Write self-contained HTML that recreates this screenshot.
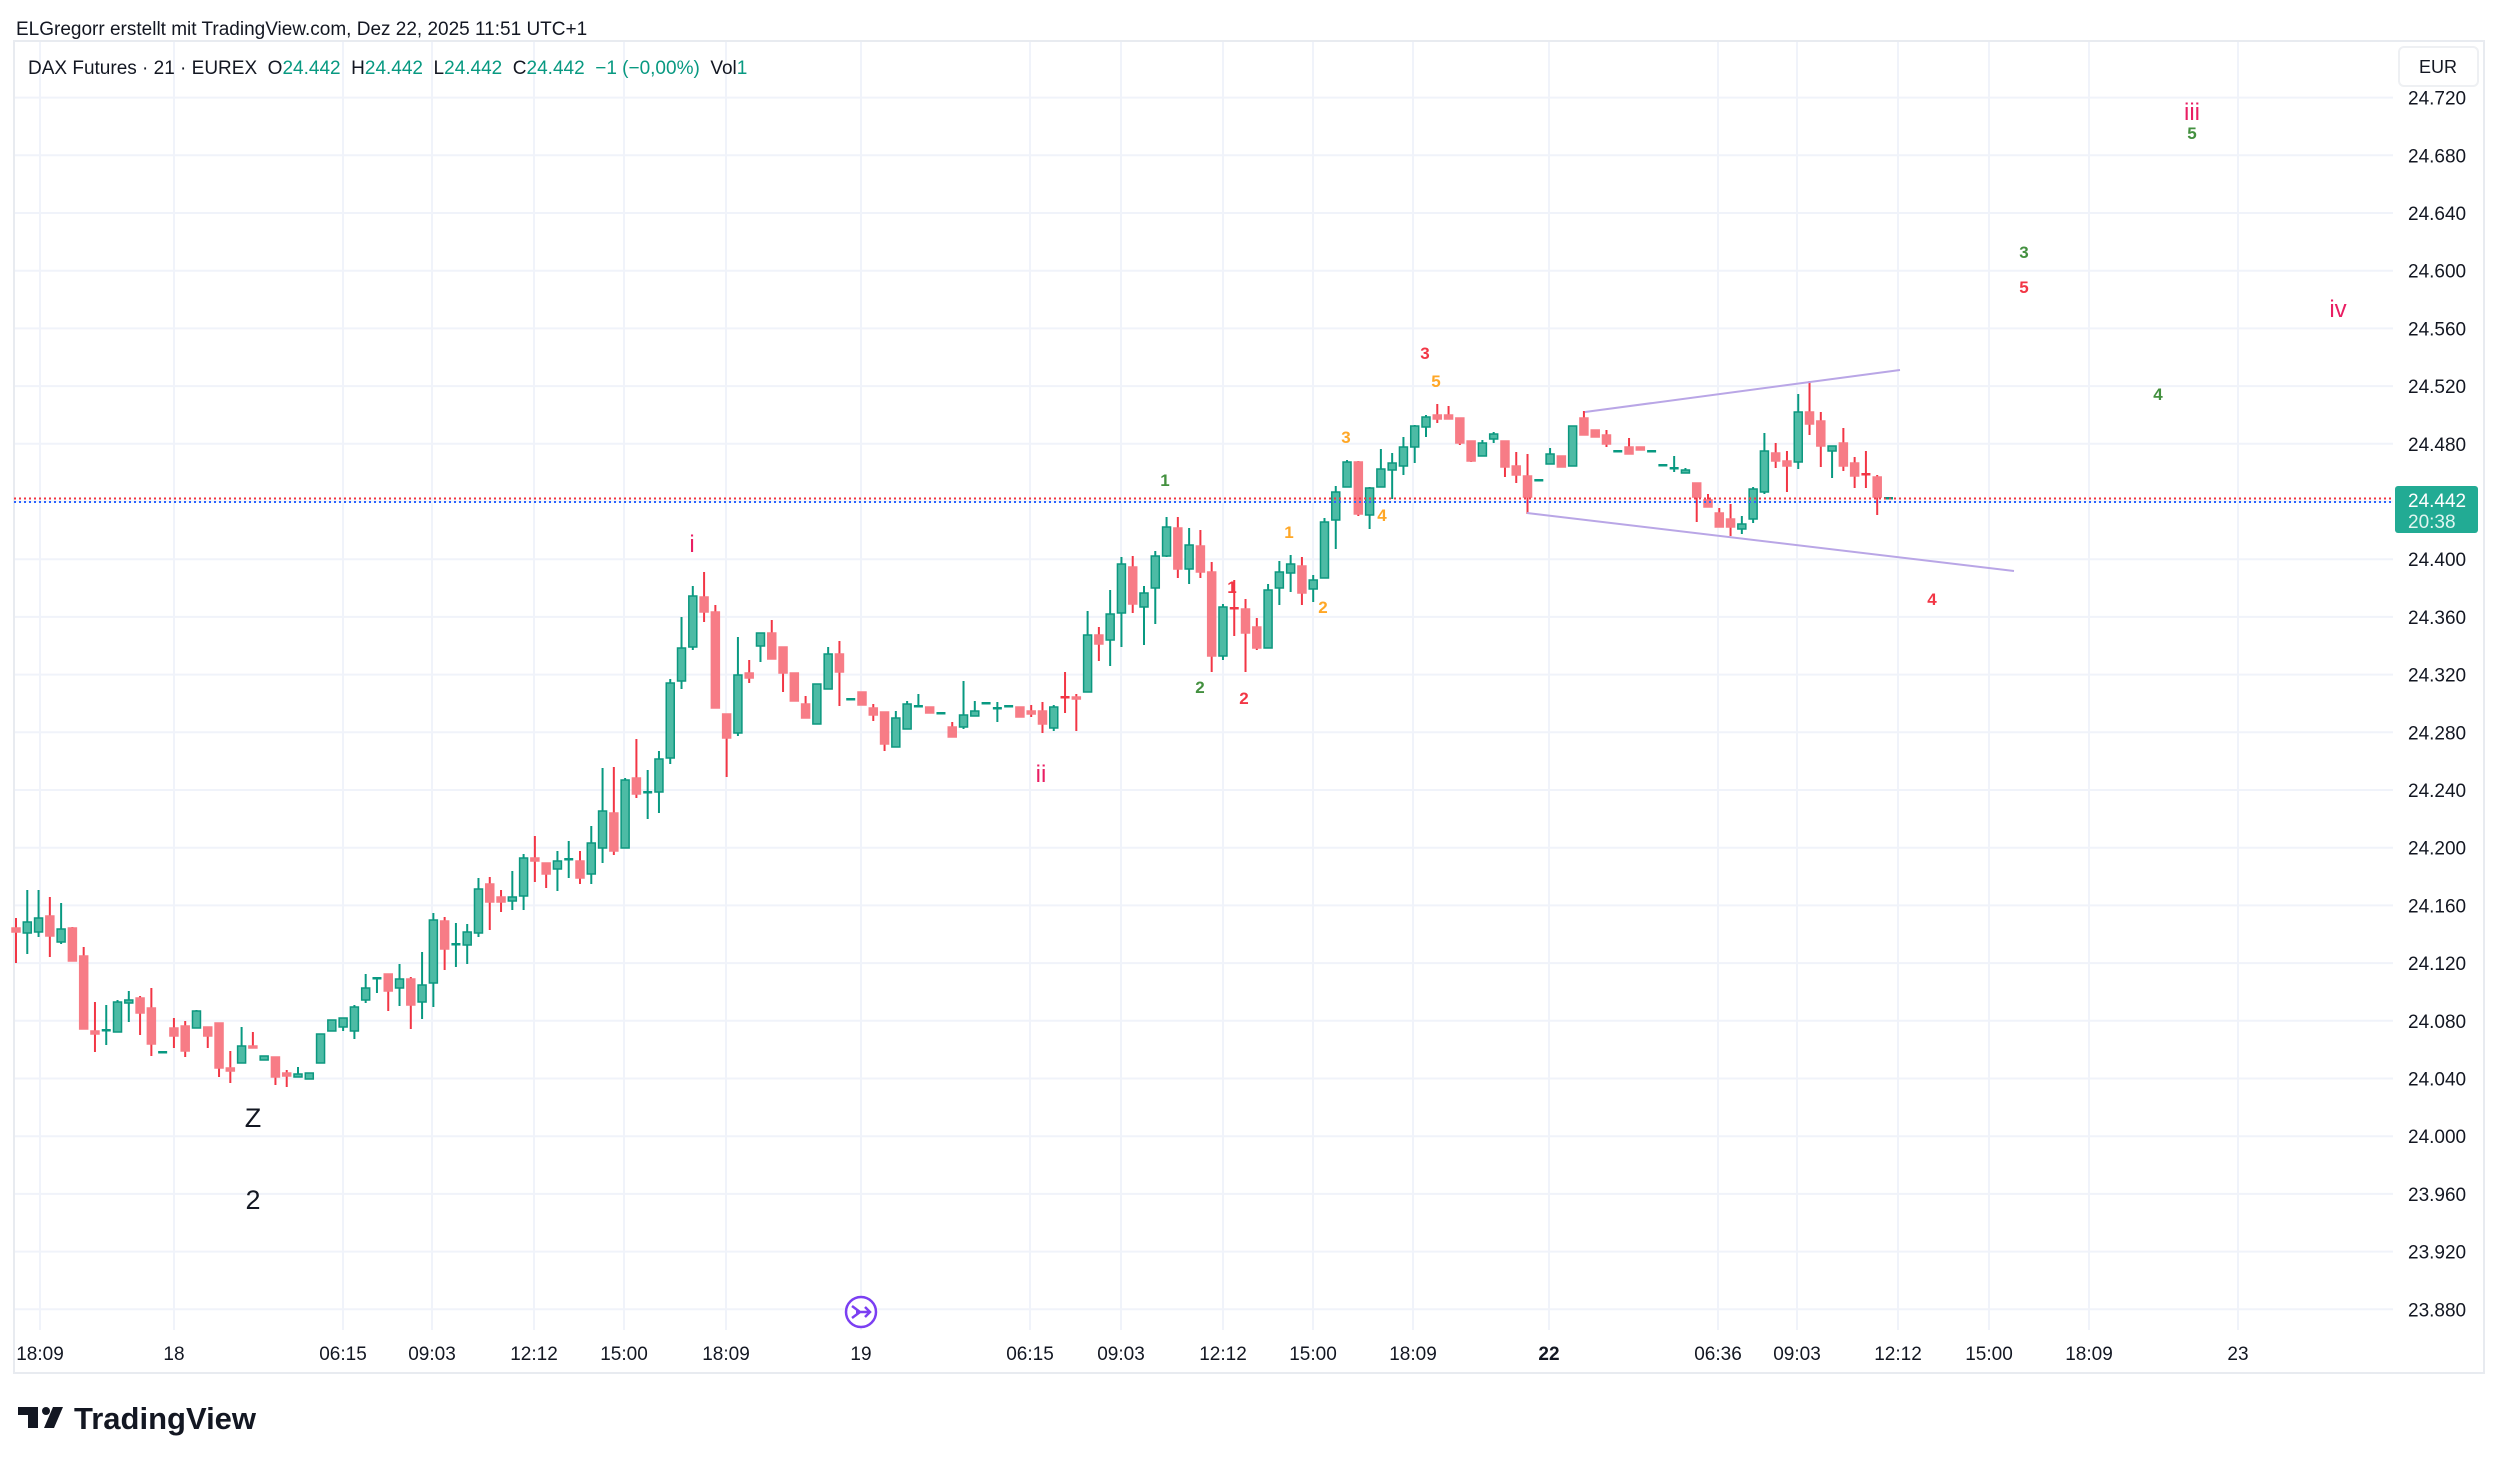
<!DOCTYPE html>
<html><head><meta charset="utf-8"><style>
html,body{margin:0;padding:0;background:#fff;}
svg{display:block;}
text{font-family:"Liberation Sans",sans-serif;}
</style></head><body>
<svg id="s" width="2500" height="1465" viewBox="0 0 2500 1465" xmlns="http://www.w3.org/2000/svg">
<rect width="2500" height="1465" fill="#fff"/>
<text x="16" y="35" font-size="19" fill="#131722">ELGregorr erstellt mit TradingView.com, Dez 22, 2025 11:51 UTC+1</text>
<g id="grid" stroke="#f0f3fa" stroke-width="2"></g>
<rect x="14" y="41" width="2470" height="1332" fill="none" stroke="#e8ebf0" stroke-width="2"/>
<g id="candles"></g>
<line x1="14" y1="498.5" x2="2393" y2="498.5" stroke="#f23645" stroke-width="2" stroke-dasharray="2,3"/>
<line x1="14" y1="502" x2="2393" y2="502" stroke="#2962ff" stroke-width="2" stroke-dasharray="2,3"/>
<line x1="1585" y1="412" x2="1900" y2="370" stroke="#b9a6e6" stroke-width="2"/>
<line x1="1527" y1="513" x2="2014" y2="571" stroke="#b9a6e6" stroke-width="2"/>
<g font-size="17" font-weight="bold" text-anchor="middle">
<text x="1165" y="486" fill="#43903f">1</text>
<text x="1200" y="693" fill="#43903f">2</text>
<text x="1232" y="593" fill="#f23645">1</text>
<text x="1244" y="704" fill="#f23645">2</text>
<text x="1289" y="538" fill="#ffa726">1</text>
<text x="1323" y="613" fill="#ffa726">2</text>
<text x="1346" y="443" fill="#ffa726">3</text>
<text x="1382" y="521" fill="#ffa726">4</text>
<text x="1425" y="359" fill="#f23645">3</text>
<text x="1436" y="387" fill="#ffa726">5</text>
<text x="2024" y="258" fill="#43903f">3</text>
<text x="2024" y="293" fill="#f23645">5</text>
<text x="2158" y="400" fill="#43903f">4</text>
<text x="1932" y="605" fill="#f23645">4</text>
<text x="2192" y="139" fill="#43903f">5</text>
</g>
<g font-size="24" fill="#e91e63" text-anchor="middle">
<text x="692" y="552">i</text>
<text x="1041" y="782">ii</text>
<text x="2192" y="120">iii</text>
<text x="2338" y="317">iv</text>
</g>
<g font-size="27" fill="#131722" text-anchor="middle">
<text x="253" y="1127">Z</text>
<text x="253" y="1209">2</text>
</g>
<text x="28" y="74" font-size="19" fill="#131722" xml:space="preserve" style="white-space:pre">DAX Futures · 21 · EUREX  O<tspan fill="#089981">24.442</tspan>  H<tspan fill="#089981">24.442</tspan>  L<tspan fill="#089981">24.442</tspan>  C<tspan fill="#089981">24.442</tspan>  <tspan fill="#089981">−1 (−0,00%)</tspan>  Vol<tspan fill="#089981">1</tspan></text>
<rect x="2399" y="47" width="79" height="39" rx="5" fill="#fff" stroke="#eef0f3" stroke-width="2"/>
<text x="2438" y="73" font-size="18" fill="#131722" text-anchor="middle">EUR</text>
<g id="plabels" font-size="19" fill="#131722"></g>
<rect x="2395" y="486" width="83" height="47" rx="3" fill="#22ab94"/>
<text x="2408" y="507" font-size="19" fill="#fff">24.442</text>
<text x="2408" y="528" font-size="19" fill="#e0f5f0">20:38</text>
<g id="tlabels" font-size="19" fill="#131722" text-anchor="middle"></g>
<circle cx="861" cy="1312" r="15" fill="#fff" stroke="#7b3ff2" stroke-width="2.5"/>
<path d="M852 1306 L860 1312 L852 1318 M856 1312 L870 1312 M865 1307 L870 1312 L865 1317" fill="none" stroke="#7b3ff2" stroke-width="2.5"/>
<g fill="#131722">
<rect x="18" y="1407" width="20" height="8"/><rect x="28" y="1407" width="10" height="21"/>
<circle cx="46" cy="1411" r="4"/>
<polygon points="53,1407 63,1407 54,1428 44,1428"/>
</g>
<text x="74" y="1429" font-size="31" font-weight="bold" fill="#131722">TradingView</text>
</svg>
<script>
var NS="http://www.w3.org/2000/svg";
function el(p,t,a,txt){var e=document.createElementNS(NS,t);for(var k in a)e.setAttribute(k,a[k]);if(txt!==undefined)e.textContent=txt;p.appendChild(e);return e;}
var grid=document.getElementById('grid'),pl=document.getElementById('plabels'),tl=document.getElementById('tlabels');
for(var k=0;k<=21;k++){var y=97.6+k*57.7;el(grid,'line',{x1:14,y1:y,x2:2393,y2:y});
var p=(24.72-k*0.04).toFixed(3);if(k!=7)el(pl,'text',{x:2408,y:y+7},p);}
var T=[[40,'18:09'],[174,'18'],[343,'06:15'],[432,'09:03'],[534,'12:12'],[624,'15:00'],[726,'18:09'],[861,'19'],[1030,'06:15'],[1121,'09:03'],[1223,'12:12'],[1313,'15:00'],[1413,'18:09'],[1549,'22'],[1718,'06:36'],[1797,'09:03'],[1898,'12:12'],[1989,'15:00'],[2089,'18:09'],[2238,'23']];
T.forEach(function(t){el(grid,'line',{x1:t[0],y1:41,x2:t[0],y2:1330});var a={x:t[0],y:1360};if(t[1]=='22')a['font-weight']='bold';el(tl,'text',a,t[1]);});
var D="r 928 932 918 963|g 922 933 890 954|g 918 932 890 937|r 916 936 897 957|g 929 942 903 944|r 928 961 927 961|r 956 1029 947 1029|r 1031 1034 1002 1052|g 1030 1031 1005 1045|g 1002 1032 1000 1032|g 1000 1003 991 1022|r 998 1013 996 1035|r 1008 1044 988 1056|g 1052 1053 1052 1053|r 1028 1036 1018 1048|r 1026 1051 1021 1057|g 1011 1028 1010 1028|r 1027 1036 1027 1048|r 1023 1068 1023 1077|r 1068 1071 1051 1083|g 1046 1063 1027 1063|r 1046 1048 1032 1048|g 1056 1060 1056 1060|r 1057 1077 1057 1085|r 1073 1076 1070 1087|g 1074 1077 1067 1077|g 1073 1079 1073 1079|g 1034 1063 1034 1063|g 1020 1031 1020 1031|g 1018 1027 1018 1031|g 1007 1031 1005 1039|g 988 1000 974 1003|g 978 979 978 993|r 974 991 974 1011|g 979 988 964 1006|r 979 1005 977 1029|g 985 1002 952 1019|g 920 983 913 1007|r 921 949 917 970|g 944 945 923 967|g 932 945 924 964|g 889 933 878 937|r 884 902 877 930|r 897 902 890 912|g 897 901 871 910|g 858 896 854 910|r 858 861 836 882|r 863 874 863 888|g 861 869 851 891|g 859 859 841 878|r 861 878 851 884|g 843 874 826 884|g 811 848 768 863|r 813 851 767 855|g 780 848 778 848|r 778 794 739 798|g 792 792 770 819|g 759 792 751 813|g 683 758 679 764|g 648 681 617 689|g 596 647 586 650|r 597 612 572 622|r 612 708 605 708|r 714 738 714 777|g 675 733 637 736|r 673 678 660 683|g 633 646 633 662|r 633 659 620 659|r 647 673 647 692|r 673 701 673 701|r 704 718 696 718|g 684 724 684 724|g 654 689 647 689|r 654 672 641 706|g 699 699 699 699|r 692 705 692 705|r 708 715 704 721|r 712 744 712 751|g 718 747 711 747|g 704 729 701 729|g 706 706 694 706|r 707 713 707 713|g 713 713 713 713|r 727 737 722 737|g 715 727 681 729|g 711 716 701 716|g 703 703 703 703|g 708 708 702 722|g 706 706 706 706|r 707 717 707 717|r 711 714 705 717|r 711 724 702 733|g 707 728 705 731|r 697 697 672 713|r 697 699 694 731|g 635 692 611 692|r 635 644 627 661|g 614 640 590 666|g 564 613 557 647|r 567 604 556 613|g 593 607 586 645|g 556 588 551 624|g 527 556 517 557|r 528 569 517 578|g 545 569 528 584|r 546 572 530 578|r 572 656 562 672|g 607 656 604 660|r 608 608 580 636|r 609 633 599 672|r 627 648 618 650|g 590 648 584 648|g 572 588 561 605|g 564 573 555 592|r 566 593 557 605|g 580 589 575 602|g 522 578 518 578|g 492 520 486 549|g 462 487 460 487|r 462 514 461 516|g 488 515 487 529|g 469 487 449 487|g 463 470 453 499|g 447 466 437 475|g 426 447 425 463|g 417 427 415 437|r 415 419 404 423|r 415 419 406 419|r 418 443 418 445|r 441 461 441 462|g 443 456 440 456|g 434 439 432 443|r 441 467 441 477|r 466 475 452 483|r 476 497 454 514|g 480 480 480 480|g 454 464 448 464|r 456 467 456 467|g 426 466 426 466|r 418 435 411 435|r 430 437 430 437|r 435 444 430 447|g 451 451 451 451|r 447 454 438 454|r 447 450 447 450|g 451 451 451 451|g 465 465 465 465|g 468 468 456 472|g 470 473 468 473|r 483 497 483 522|r 500 507 494 507|r 513 527 508 527|r 519 527 504 536|g 524 529 516 534|g 489 519 487 523|g 451 492 433 494|r 453 461 443 468|r 461 466 451 492|g 412 462 394 469|r 412 424 381 435|r 421 446 412 467|g 446 451 446 478|r 443 466 428 471|r 463 476 457 488|r 474 474 451 488|r 477 497 475 515|g 498 498 498 498";
var cg=document.getElementById('candles');
D.split('|').forEach(function(s,i){var a=s.split(' '),c=a[0],bt=+a[1],bb=+a[2],wt=+a[3],wb=+a[4];
var x=16+i*11.28;var g=c=='g';var wc=g?'#089981':'#f23645';
if(wt<bt||wb>bb)el(cg,'line',{x1:x,y1:Math.min(wt,bt),x2:x,y2:Math.max(wb,bb),stroke:wc,'stroke-width':2});
var h=bb-bt;if(h<2){el(cg,'rect',{x:x-4.5,y:bt-1,width:9,height:2.5,fill:wc});}
else el(cg,'rect',{x:x-4,y:bt,width:8,height:h,fill:g?'#4dbba5':'#f77c86',stroke:g?'#0c977f':'#f77c86','stroke-width':1.5});
});
</script>
</body></html>
